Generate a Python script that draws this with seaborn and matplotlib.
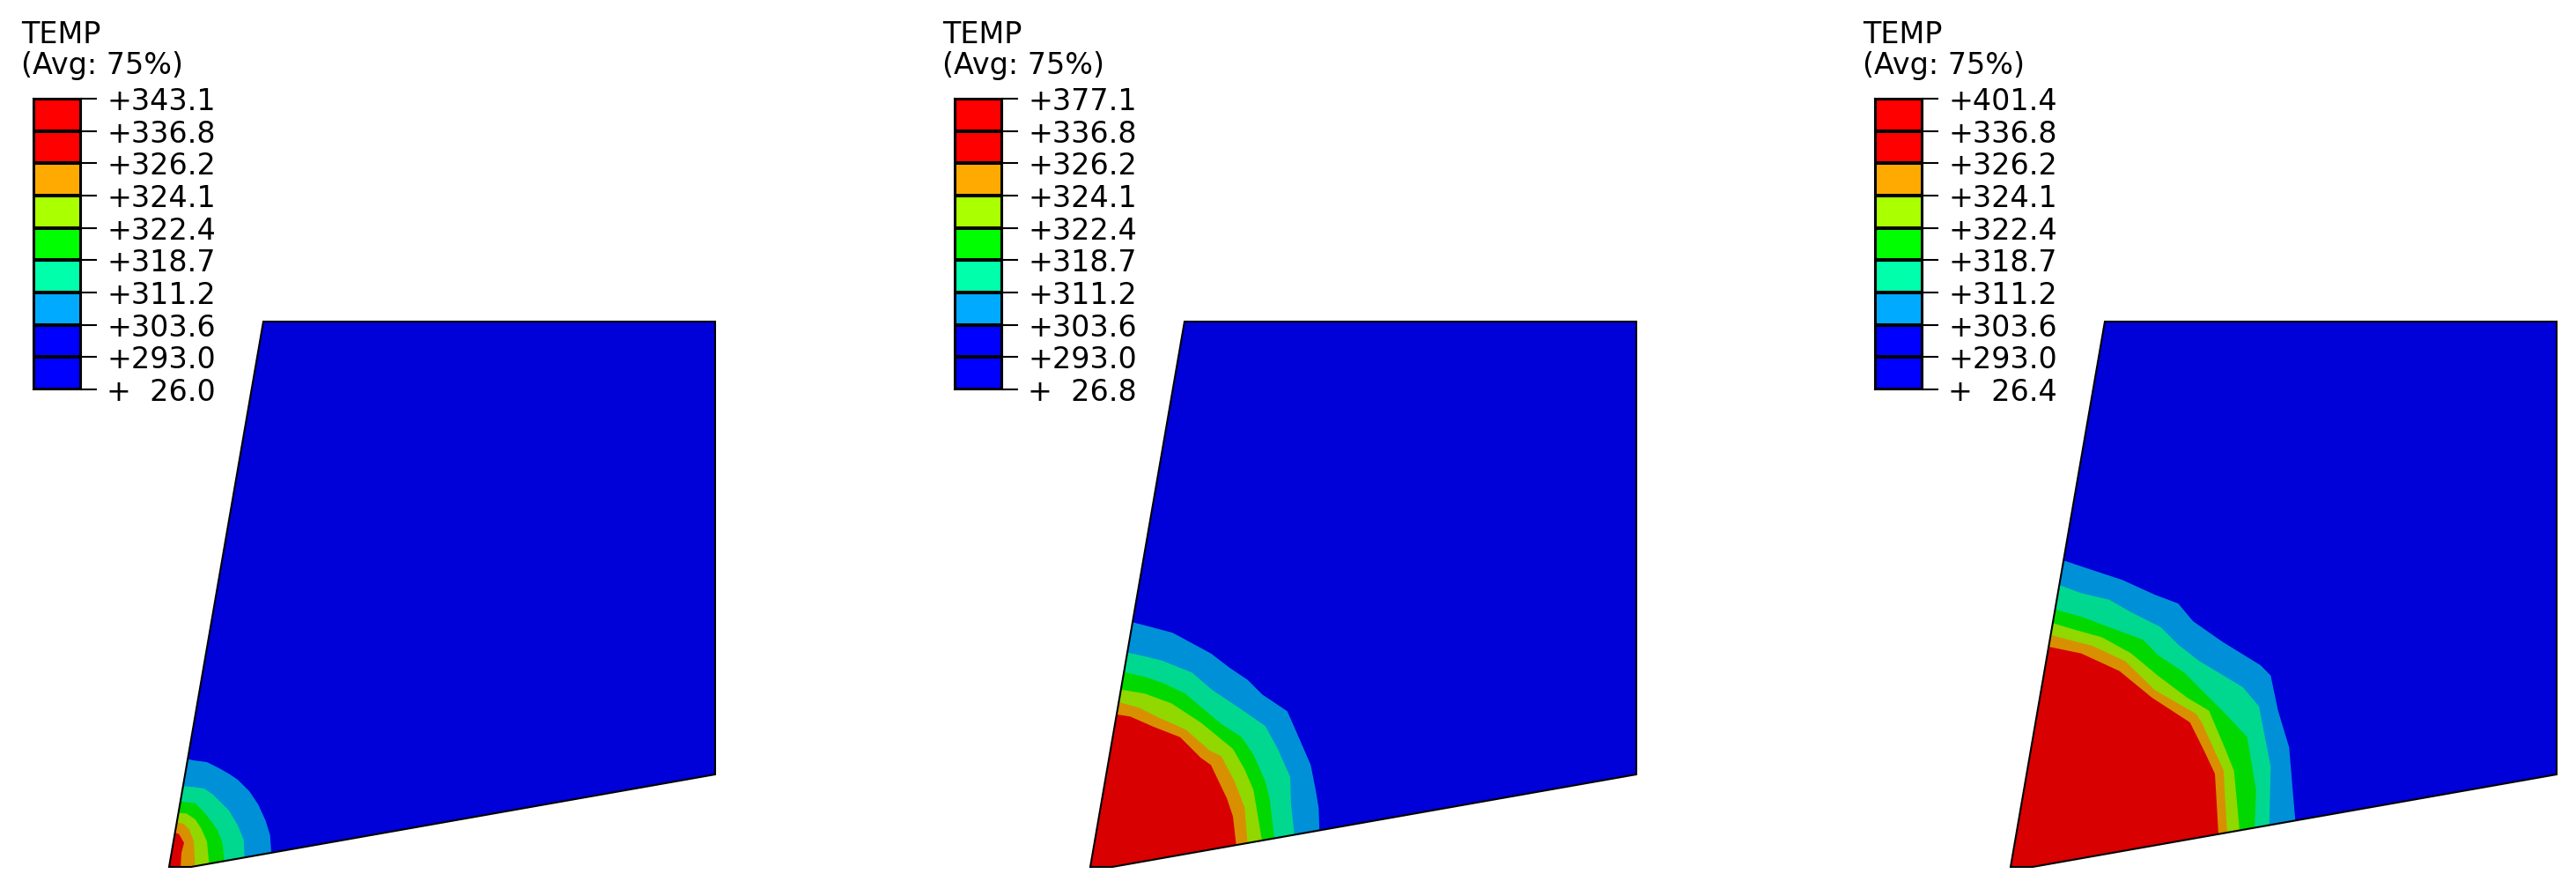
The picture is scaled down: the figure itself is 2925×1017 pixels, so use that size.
'''
    plot.py
    Three FE temperature contour plots with their legends
'''

import matplotlib
matplotlib.use('Agg')
import matplotlib.pyplot as plt
from matplotlib.colors import ListedColormap
from matplotlib.patches import Polygon
import numpy as np
import seaborn as sns

WIDTH, HEIGHT = 2925, 1017
FONT_SIZE = 24

# legend values, top of scale and bottom of scale change per panel
MID_LABELS = ['+336.8', '+326.2', '+324.1', '+322.4', '+318.7',
              '+311.2', '+303.6', '+293.0']
TOP_LABELS = ['+343.1', '+377.1', '+401.4']
BOTTOM_LABELS = ['+  26.0', '+  26.8', '+  26.4']
LEGEND_COLORS = ['#ff0000', '#ff0000', '#ffaa00', '#aaff00', '#00ff00',
                 '#00ffaa', '#00aaff', '#0000ff', '#0000ff']

# shaded colours on the model: outer band to inner band
MODEL_COLOR = '#0000d8'
BAND_COLORS = ['#0090d8', '#00d890', '#00d800', '#90d800', '#d89000', '#d80000']

# outline of the model
MODEL_OUTLINE = [(299, 365), (812, 365), (812, 879), (217, 984), (192, 984)]

# contour boundaries, each one runs from the left edge to the bottom edge
CONTOURS_1 = [
    [(212.7, 861.7), (221.7, 863.3), (235, 865), (248.3, 871.7), (260, 878.3),
     (270, 885), (283.3, 898.3), (293.3, 913.3), (301.7, 931.7), (306.7, 948.3),
     (308.3, 972)],
    [(206.7, 892.3), (220, 893.3), (231.7, 895), (241.7, 901.7), (251.7, 911.7),
     (260, 920), (270, 936.7), (276.7, 953.3), (277.7, 976)],
    [(204.3, 909.3), (213.3, 910.7), (221.7, 911.7), (230, 920), (238.3, 930),
     (246.7, 941.7), (252.7, 956.7), (255, 980)],
    [(201.7, 922.7), (211.7, 923.3), (221.7, 930), (228.3, 940), (235, 955),
     (237.7, 984)],
    [(200, 933.3), (208.3, 935), (215, 941.7), (220, 955), (221.7, 986)],
    [(198.3, 945), (203.3, 946.7), (209, 956.7), (206, 968.3), (205, 986)],
]
CONTOURS_2 = [
    [(239, 706), (257.3, 710.7), (285.7, 718.3), (307.3, 730), (329, 741.7),
     (350.7, 758.3), (370.7, 771.7), (387.3, 788.3), (415.7, 807.3),
     (425.7, 830), (442.3, 868.3), (447.3, 893.3), (451.3, 916.7), (452.3, 945)],
    [(234, 740.7), (254, 745), (274, 750), (307.3, 763.3), (330.7, 783.3),
     (360.7, 803.3), (390.7, 824), (404, 848.3), (419, 881.7), (420, 913.3),
     (424, 950)],
    [(230, 762.7), (254, 768.3), (274, 775), (299, 786.7), (320.7, 805),
     (340.7, 821.7), (364, 836.7), (377.3, 856.7), (390.7, 886.7),
     (395.7, 906.7), (401.3, 954)],
    [(226.7, 782.7), (254, 787.3), (284, 798.3), (317.3, 820), (354, 850),
     (367.3, 873.3), (377.3, 896.7), (384, 936.7), (387.3, 956)],
    [(223.3, 796.7), (247.3, 803.3), (270.7, 815), (300.7, 828.3),
     (327.3, 851.7), (340.7, 858.3), (355.7, 886.7), (367.3, 916.7),
     (370.7, 959)],
    [(220.7, 810.7), (237.3, 813.3), (264, 825), (294, 836.7), (317.3, 860),
     (329, 868.3), (347.3, 906.7), (354, 926.7), (358, 962)],
]
CONTOURS_3 = [
    [(254, 636.7), (275.7, 644), (319, 658.3), (355.7, 675), (382.3, 685),
     (399, 705), (432.3, 728.3), (475.7, 755), (487.3, 766.7), (495.7, 806.7),
     (508.3, 848.3), (512.3, 896.7), (515.7, 936)],
    [(247.3, 664), (272.3, 673.3), (304, 680.7), (329, 695), (362.3, 711.7),
     (382.3, 731.7), (405.7, 750), (455.7, 780), (474, 801.7), (487.3, 870),
     (485.7, 940)],
    [(242.3, 691.7), (272.3, 700), (312.3, 715), (342.3, 726), (359, 743.3),
     (389, 763.3), (435.7, 810), (460.7, 836.7), (470.7, 896.7), (469, 943)],
    [(240, 707.3), (265.7, 715), (295.7, 723.3), (329, 741.7), (359, 766.7),
     (392.3, 791.7), (417.3, 806.7), (435.7, 850), (445.7, 875), (452.3, 946)],
    [(237.3, 720.7), (262.3, 727.3), (285.7, 733.3), (322.3, 750.7),
     (355.7, 783.3), (402.3, 810), (409, 820), (434, 875), (435.7, 910),
     (438.3, 950)],
    [(235, 734), (272.3, 741.7), (315.7, 761.7), (352.3, 791.7), (395.7, 820),
     (412.3, 853.3), (424, 878.3), (425.7, 906.7), (428.3, 952)],
]
ALL_CONTOURS = [CONTOURS_1, CONTOURS_2, CONTOURS_3]

PANEL_LEFT = [0, 1046, 2091]
PANEL_WIDTH = 880


def draw_model(ax, contours):
    '''
        Fn: draw_model
        Param: axes, list of contour boundaries
        Returns: nothing
        Does: fills the model outline and stacks the bands from outside in,
              every band is clipped to the outline
    '''
    outline = Polygon(MODEL_OUTLINE, closed=True, facecolor=MODEL_COLOR,
                      edgecolor='none')
    ax.add_patch(outline)
    for curve, color in zip(contours, BAND_COLORS):
        # close the band outside the model, the clip trims it
        end_x, start_y = curve[-1][0], curve[0][1]
        points = curve + [(end_x, 1010), (150, 1010), (150, start_y)]
        band = Polygon(points, closed=True, facecolor=color, edgecolor='none')
        ax.add_patch(band)
        band.set_clip_path(outline)
    ax.add_patch(Polygon(MODEL_OUTLINE, closed=True, facecolor='none',
                         edgecolor='black', lw=1.5, joinstyle='miter'))


def draw_legend(fig, left, top_label, bottom_label):
    '''
        Fn: draw_legend
        Param: figure, panel left edge in pixels, top and bottom labels
        Returns: nothing
        Does: draws the colour scale as a heatmap with ticks at cell borders
    '''
    cax = fig.add_axes([(left + 38) / WIDTH, 1 - 442 / HEIGHT,
                        54 / WIDTH, 330 / HEIGHT])
    cells = np.arange(len(LEGEND_COLORS)).reshape(-1, 1)
    sns.heatmap(cells, ax=cax, cmap=ListedColormap(LEGEND_COLORS), cbar=False,
                linewidths=1.5, linecolor='black',
                xticklabels=False, yticklabels=False)
    for spine in cax.spines.values():
        spine.set_visible(True)
        spine.set_color('black')
        spine.set_linewidth(1.5)
    labels = [top_label] + MID_LABELS + [bottom_label]
    cax.yaxis.tick_right()
    cax.set_yticks(np.arange(len(labels)))
    cax.set_yticklabels(labels, fontsize=FONT_SIZE, rotation=0, color='black')
    cax.tick_params(axis='y', length=13, width=1.5, pad=8, color='black',
                    left=False, right=True)


def main():
    sns.set_style('white')
    fig = plt.figure(figsize=(WIDTH / 100, HEIGHT / 100), dpi=100)
    for i, left in enumerate(PANEL_LEFT):
        ax = fig.add_axes([left / WIDTH, 0, PANEL_WIDTH / WIDTH, 1])
        ax.set_xlim(0, PANEL_WIDTH)
        ax.set_ylim(HEIGHT, 0)
        ax.axis('off')
        draw_model(ax, ALL_CONTOURS[i])
        ax.text(24, 49, 'TEMP', fontsize=FONT_SIZE, color='black')
        ax.text(24, 84, '(Avg: 75%)', fontsize=FONT_SIZE, color='black')
        draw_legend(fig, left, TOP_LABELS[i], BOTTOM_LABELS[i])
    fig.savefig('out.png', dpi=100)


if __name__ == "__main__":
    main()
